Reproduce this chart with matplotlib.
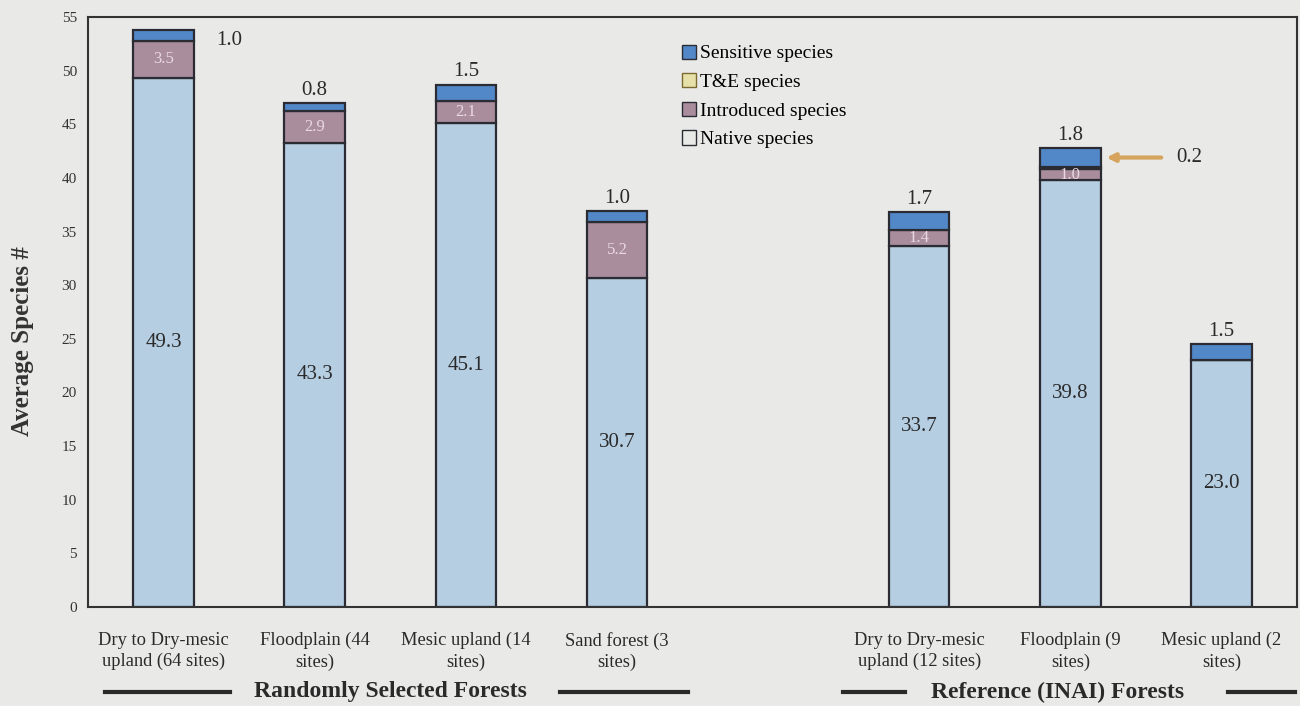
import matplotlib
matplotlib.use("Agg")
import matplotlib.pyplot as plt
from matplotlib.lines import Line2D
from matplotlib.patches import Patch
import numpy as np

plt.rcParams['font.family'] = ['Liberation Serif', 'DejaVu Serif']

# Data (empty slot between the two groups)
categories = ["Dry to Dry-mesic\nupland (64 sites)", "Floodplain (44\nsites)",
              "Mesic upland (14\nsites)", "Sand forest (3\nsites)", "",
              "Dry to Dry-mesic\nupland (12 sites)", "Floodplain (9\nsites)",
              "Mesic upland (2\nsites)"]
native = [49.3, 43.3, 45.1, 30.7, 0, 33.7, 39.8, 23.0]
introduced = [3.5, 2.9, 2.1, 5.2, 0, 1.4, 1.0, 0.0]
t_and_e = [0, 0, 0, 0, 0, 0, 0.2, 0]
sensitive = [1.0, 0.8, 1.5, 1.0, 0, 1.7, 1.8, 1.5]
groups = ["Randomly Selected Forests", "Reference (INAI) Forests"]

bg = "#e9eae8"
c_native = "#b6cee2"
c_intro = "#a98d9d"
c_te = "#e6e1a8"
c_sens = "#5288c8"
edge = "#2b2b33"

fig = plt.figure(figsize=(13, 7.06), dpi=100, facecolor=bg)
ax = fig.add_axes([0.0677, 0.1402, 0.930, 0.8357], facecolor=bg)

x = np.arange(len(categories))
w = 0.40
present = [i for i in x if native[i] > 0]
xp = x[present]

def pick(arr):
    return np.array([arr[i] for i in present])

nat, intr, te, sen = pick(native), pick(introduced), pick(t_and_e), pick(sensitive)
ax.bar(xp, nat, w, color=c_native, edgecolor=edge, linewidth=1.6)
ax.bar(xp, intr, w, bottom=nat, color=c_intro, edgecolor=edge, linewidth=1.6)
te_idx = te > 0
ax.bar(xp[te_idx], te[te_idx], w, bottom=(nat + intr)[te_idx], color=c_te,
       edgecolor=edge, linewidth=1.6)
ax.bar(xp, sen, w, bottom=nat + intr + te, color=c_sens, edgecolor=edge, linewidth=1.6)

txt = "#2a2a2a"
for j, i in enumerate(xp):
    ax.text(i, nat[j] / 2, f"{nat[j]:.1f}", ha="center", va="center", fontsize=15, color=txt)
    if intr[j] > 0:
        ax.text(i, nat[j] + intr[j] / 2, f"{intr[j]:.1f}", ha="center", va="center",
                fontsize=12, color="#ead9e2")
    top = nat[j] + intr[j] + te[j] + sen[j]
    if j == 0:
        ax.text(i + w / 2 + 0.15, top - 1.0, f"{sen[j]:.1f}", ha="left", va="center",
                fontsize=15, color=txt)
    else:
        ax.text(i, top + 0.3, f"{sen[j]:.1f}", ha="center", va="bottom", fontsize=15, color=txt)

# T&E call-out arrow
k = list(xp).index(6)
ax.annotate("", xy=(6 + w / 2 + 0.02, 41.9), xytext=(6 + w / 2 + 0.42, 41.9),
            arrowprops=dict(arrowstyle="-|>", color="#d6a45c", lw=3, mutation_scale=12))
ax.text(6 + w / 2 + 0.5, 41.9, f"{te[k]:.1f}", ha="left", va="center", fontsize=15, color=txt)

ax.set_xlim(-0.5, 7.5)
ax.set_ylim(0, 55)
ax.set_yticks(np.arange(0, 56, 5))
ax.tick_params(axis="y", length=0, labelsize=11, labelcolor="#333333", pad=8)
ax.set_xticks(x)
ax.set_xticklabels(categories, fontsize=13.3, color="#2a2a2a", linespacing=1.3)
ax.tick_params(axis="x", length=0, pad=18)
for s in ax.spines.values():
    s.set_color("#333333")
    s.set_linewidth(1.5)
ax.set_ylabel("Average Species #", fontsize=18, fontweight="bold", color="#333333")
ax.yaxis.set_label_coords(-0.045, 0.45)

handles = [Patch(facecolor=c_sens, edgecolor=edge), Patch(facecolor=c_te, edgecolor="#7a6a30"),
           Patch(facecolor=c_intro, edgecolor=edge), Patch(facecolor=bg, edgecolor=edge)]
labels = ["Sensitive species", "T&E species", "Introduced species", "Native species"]
ax.legend(handles, labels, loc="upper left", bbox_to_anchor=(0.488, 0.96), frameon=False,
          fontsize=14, handlelength=0.75, handleheight=0.75, handletextpad=0.2,
          labelspacing=0.55, borderaxespad=0, borderpad=0.2)

# group labels with flanking rules
gy = 1 - 692 / 706
fig.text(390 / 1300, gy, groups[0], ha="center", va="center",
         fontsize=17, fontweight="bold", color="#2a2a2a")
fig.text(1058 / 1300, gy, groups[1], ha="center", va="center",
         fontsize=17, fontweight="bold", color="#2a2a2a")
for x0, x1 in [(105, 230), (560, 688), (843, 905), (1228, 1295)]:
    fig.add_artist(Line2D([x0 / 1300, x1 / 1300], [gy] * 2, color="#2a2a2a", lw=3))

fig.savefig("out.png", dpi=100, facecolor=bg)
